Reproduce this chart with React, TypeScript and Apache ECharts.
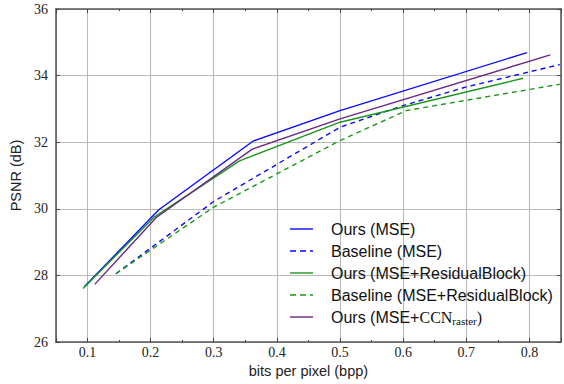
import React, { useEffect, useRef } from "react";
import * as echarts from "echarts";

// Rate–distortion curves: [bits per pixel, PSNR in dB]
const oursMse: [number, number][] = [
  [0.095, 27.66], [0.213, 29.97], [0.362, 32.03], [0.5, 32.95], [0.796, 34.69],
];
const baselineMse: [number, number][] = [
  [0.145, 28.05], [0.3, 30.22], [0.5, 32.45], [0.6, 33.1], [0.7, 33.66], [0.848, 34.33],
];
const oursResidual: [number, number][] = [
  [0.093, 27.61], [0.205, 29.74], [0.341, 31.44], [0.5, 32.6], [0.79, 33.92],
];
const baselineResidual: [number, number][] = [
  [0.145, 28.05], [0.3, 30.05], [0.5, 32.05], [0.605, 32.95], [0.848, 33.74],
];
const oursCcn: [number, number][] = [
  [0.1115, 27.73], [0.209, 29.74], [0.361, 31.79], [0.5, 32.7], [0.833, 34.62],
];

const seriesNames = [
  "Ours (MSE)",
  "Baseline (MSE)",
  "Ours (MSE+ResidualBlock)",
  "Baseline (MSE+ResidualBlock)",
  "Ours (MSE+CCN_raster)",
];

const xRange = { min: 0.05, max: 0.85 };
const yRange = { min: 26, max: 36, interval: 2 };

const BLUE = "#0a0aff";
const GREEN = "#1a961a";
const PURPLE = "#6b2686";
const SERIF = "'Liberation Serif', 'DejaVu Serif', serif";
const SANS = "'Liberation Sans', Arial, sans-serif";

// legend swatches: a flat bar, or a bar broken into dashes
const SOLID_ICON = "path://M0,0h23v1.4h-23z";
const DASHED_ICON = "path://M0,0h6v1.4h-6z M10,0h6v1.4h-6z M20,0h3v1.4h-3z";

export default function App() {
  const ref = useRef<HTMLDivElement>(null);

  useEffect(() => {
    if (!ref.current) return;
    const chart = echarts.init(ref.current, null, { renderer: "svg" });

    const grid = { left: 45, top: 9, width: 520, height: 333 };
    const axisLine = { show: true, lineStyle: { color: "#555", width: 1.5 } };

    const line = (
      name: string,
      data: [number, number][],
      color: string,
      dashed: boolean
    ) => ({
      name,
      type: "line",
      data,
      symbol: "none",
      showSymbol: false,
      xAxisIndex: 0,
      yAxisIndex: 0,
      lineStyle: { color, width: 1.4, type: dashed ? [5, 4] : "solid" },
      itemStyle: { color },
    });

    const dashedSet = new Set([seriesNames[1], seriesNames[3]]);

    chart.setOption({
      animation: false,
      backgroundColor: "#fff",
      grid: [grid],
      xAxis: [
        {
          type: "value",
          position: "bottom",
          min: xRange.min,
          max: xRange.max,
          splitNumber: 8,
          axisLine,
          axisTick: { show: true, inside: true, length: 4, lineStyle: { color: "#444" } },
          axisLabel: {
            fontFamily: SERIF,
            fontSize: 14,
            color: "#222",
            margin: 3,
            formatter: (v: number) =>
              Math.abs(v * 10 - Math.round(v * 10)) < 1e-6 ? v.toFixed(1) : "",
          },
          splitLine: { show: true, lineStyle: { color: "#bababa", width: 1.1 } },
          name: "bits per pixel (bpp)",
          nameLocation: "middle",
          nameGap: 19,
          nameTextStyle: { fontFamily: SANS, fontSize: 14.5, color: "#222" },
        },
        {
          type: "value",
          position: "top",
          min: xRange.min,
          max: xRange.max,
          splitNumber: 8,
          axisLine,
          axisTick: { show: true, inside: true, length: 4, lineStyle: { color: "#444" } },
          axisLabel: { show: false },
          splitLine: { show: false },
        },
        // half-step minor ticks, bottom and top
        {
          type: "value",
          position: "bottom",
          min: xRange.min,
          max: xRange.max,
          interval: 0.1,
          axisLine: { show: false },
          axisTick: { show: true, inside: true, length: 2, lineStyle: { color: "#444" } },
          axisLabel: { show: false },
          splitLine: { show: false },
        },
        {
          type: "value",
          position: "top",
          min: xRange.min,
          max: xRange.max,
          interval: 0.1,
          axisLine: { show: false },
          axisTick: { show: true, inside: true, length: 2, lineStyle: { color: "#444" } },
          axisLabel: { show: false },
          splitLine: { show: false },
        },
      ],
      yAxis: [
        {
          type: "value",
          position: "left",
          min: yRange.min,
          max: yRange.max,
          interval: yRange.interval,
          axisLine,
          axisTick: { show: true, inside: true, length: 4, lineStyle: { color: "#444" } },
          axisLabel: { fontFamily: SERIF, fontSize: 14, color: "#222", margin: 8 },
          splitLine: { show: true, lineStyle: { color: "#bababa", width: 1.1 } },
          name: "PSNR (dB)",
          nameLocation: "middle",
          nameGap: 25,
          nameTextStyle: { fontFamily: SANS, fontSize: 14.5, color: "#222" },
        },
        {
          type: "value",
          position: "right",
          min: yRange.min,
          max: yRange.max,
          interval: yRange.interval,
          axisLine,
          axisTick: { show: true, inside: true, length: 4, lineStyle: { color: "#444" } },
          axisLabel: { show: false },
          splitLine: { show: false },
        },
      ],
      legend: {
        orient: "vertical",
        left: 285,
        top: 216,
        itemWidth: 23,
        itemHeight: 14,
        itemGap: 6,
        symbolKeepAspect: true,
        data: seriesNames.map((name) => ({
          name,
          icon: dashedSet.has(name) ? DASHED_ICON : SOLID_ICON,
        })),
        formatter: (name: string) =>
          name.includes("CCN")
            ? "{a|Ours (MSE+}{s|CCN}{sub|raster}{s|)}"
            : name,
        textStyle: {
          fontFamily: SANS,
          fontSize: 16,
          color: "#111",
          padding: [0, 0, 0, 13],
          rich: {
            a: { fontFamily: SANS, fontSize: 16, color: "#111" },
            s: { fontFamily: SERIF, fontSize: 16, color: "#111" },
            sub: {
              fontFamily: SERIF,
              fontSize: 11,
              color: "#111",
              padding: [8, 0, 0, 0],
            },
          },
        },
      },
      series: [
        line(seriesNames[0], oursMse, BLUE, false),
        line(seriesNames[1], baselineMse, BLUE, true),
        line(seriesNames[2], oursResidual, GREEN, false),
        line(seriesNames[3], baselineResidual, GREEN, true),
        line(seriesNames[4], oursCcn, PURPLE, false),
      ],
    });

    return () => chart.dispose();
  }, []);

  return (
    <div
      ref={ref}
      style={{ position: "absolute", left: 0, top: 0, width: 564, height: 384 }}
    />
  );
}
